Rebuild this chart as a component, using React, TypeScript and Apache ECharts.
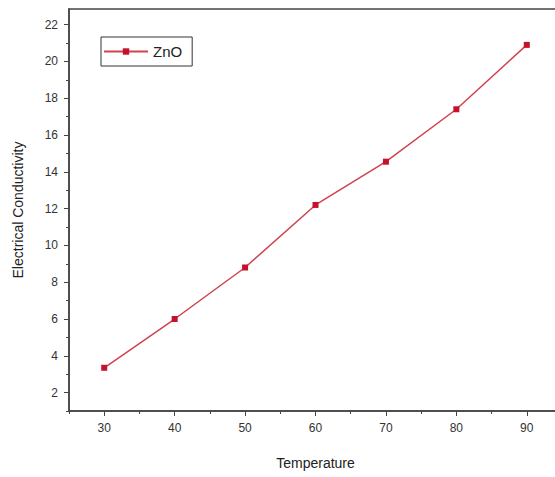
import React, { useEffect, useRef } from "react";
import * as echarts from "echarts";

const temperatures = [30, 40, 50, 60, 70, 80, 90];
const conductivity = [3.35, 6.0, 8.8, 12.2, 14.55, 17.4, 20.9];
const seriesName = "ZnO";
const xTitle = "Temperature";
const yTitle = "Electrical Conductivity";
const xMajorTicks = [30, 40, 50, 60, 70, 80, 90];
const xMinorTicks = [25, 35, 45, 55, 65, 75, 85, 95];
const yMajorTicks = [2, 4, 6, 8, 10, 12, 14, 16, 18, 20, 22];
const yMinorTicks = [1, 3, 5, 7, 9, 11, 13, 15, 17, 19, 21];

export default function App() {
  const ref = useRef<HTMLDivElement>(null);
  useEffect(() => {
    document.body.style.margin = "0";
    const chart = echarts.init(ref.current!, null, { renderer: "svg" });
    const font = "Liberation Sans, Arial, sans-serif";
    const axisColor = "#444";
    const xRange = { min: 25, max: 95 };
    const yRange = { min: 1, max: 22.85 };
    chart.setOption({
      animation: false,
      backgroundColor: "#ffffff",
      grid: {
        left: 69,
        top: 9,
        width: 493,
        height: 402,
        outerBoundsMode: "none",
        containLabel: false,
        show: true,
        borderColor: axisColor,
        borderWidth: 1.5,
        backgroundColor: "transparent",
      },
      legend: {
        left: 101,
        top: 37,
        orient: "vertical",
        padding: [7, 10, 7, 2],
        borderColor: "#333",
        borderWidth: 1,
        itemWidth: 44,
        itemHeight: 8,
        itemGap: 4,
        textStyle: { fontFamily: font, fontSize: 15, color: "#222" },
        data: [seriesName],
      },
      xAxis: [
        {
          type: "value",
          ...xRange,
          name: xTitle,
          nameLocation: "middle",
          nameGap: 45,
          nameTextStyle: { fontFamily: font, fontSize: 14, color: "#222" },
          axisLine: { show: true, lineStyle: { color: axisColor, width: 1.5 } },
          axisTick: { show: true, length: 5, customValues: xMajorTicks, lineStyle: { color: axisColor } },
          axisLabel: {
            customValues: xMajorTicks,
            fontFamily: font,
            fontSize: 12,
            color: "#333",
            margin: 11,
          },
          splitLine: { show: false },
        },
        {
          type: "value",
          ...xRange,
          position: "bottom",
          axisLine: { show: false },
          axisTick: { show: true, length: 3, customValues: xMinorTicks, lineStyle: { color: axisColor } },
          axisLabel: { show: false },
          splitLine: { show: false },
        },
      ],
      yAxis: [
        {
          type: "value",
          ...yRange,
          name: yTitle,
          nameLocation: "middle",
          nameGap: 44,
          nameTextStyle: { fontFamily: font, fontSize: 14, color: "#222" },
          axisLine: { show: true, lineStyle: { color: axisColor, width: 1.5 } },
          axisTick: { show: true, length: 5, customValues: yMajorTicks, lineStyle: { color: axisColor } },
          axisLabel: {
            customValues: yMajorTicks,
            fontFamily: font,
            fontSize: 12,
            color: "#333",
            margin: 11,
          },
          splitLine: { show: false },
        },
        {
          type: "value",
          ...yRange,
          position: "left",
          axisLine: { show: false },
          axisTick: { show: true, length: 3, customValues: yMinorTicks, lineStyle: { color: axisColor } },
          axisLabel: { show: false },
          splitLine: { show: false },
        },
      ],
      series: [
        {
          name: seriesName,
          type: "line",
          xAxisIndex: 0,
          yAxisIndex: 0,
          data: temperatures.map((t, i) => [t, conductivity[i]]),
          symbol: "rect",
          symbolSize: 6,
          lineStyle: { color: "#d0424e", width: 1.5 },
          itemStyle: { color: "#c4122e" },
        },
      ],
    });
    return () => chart.dispose();
  }, []);
  return <div ref={ref} style={{ width: 555, height: 477 }} />;
}
